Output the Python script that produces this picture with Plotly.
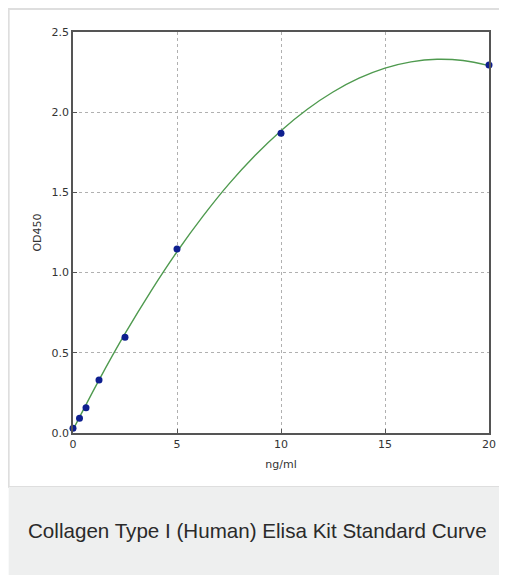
import plotly.graph_objects as go

# Standard points (ng/ml vs OD450)
conc = [0, 0.3125, 0.625, 1.25, 2.5, 5, 10, 20]
od450 = [0.03, 0.092, 0.158, 0.33, 0.597, 1.147, 1.868, 2.294]

# Fitted curve
curve_x = [0, 1.25, 2.5, 3.75, 5, 6.25, 7.5, 8.75, 10, 11.25, 12.5, 13.75, 15, 16.25, 17.5, 18.75, 20]
curve_y = [0.020, 0.330, 0.619, 0.885, 1.130, 1.352, 1.553, 1.730, 1.885, 2.017, 2.126, 2.212, 2.275, 2.314, 2.330, 2.322, 2.290]

x_ticks = [0, 5, 10, 15, 20]
y_ticks = [0.0, 0.5, 1.0, 1.5, 2.0, 2.5]
y_tick_text = ["0.0", "0.5", "1.0", "1.5", "2.0", "2.5"]
caption = "Collagen Type I (Human) Elisa Kit Standard Curve"

OFF = 8  # page body margin
W, H = 507, 575
L, R, T, B = 72.5 - OFF, W - (489.5 - OFF), 32 - OFF, H - (433 - OFF)
pw, ph = W - L - R, H - T - B


def px(x):
    return (x - OFF - L) / pw


def py(y):
    return (H - B - (y - OFF)) / ph


fig = go.Figure()
fig.add_trace(go.Scatter(x=curve_x, y=curve_y, mode="lines", line=dict(color="#4f9a4f", width=1.4, shape="spline"),
                         hoverinfo="skip", showlegend=False))
fig.add_trace(go.Scatter(x=conc, y=od450, mode="markers", marker=dict(color="#0e1f8f", size=7),
                         showlegend=False, cliponaxis=False))

shapes = [
    dict(type="rect", xref="paper", yref="paper", x0=px(8), x1=px(530), y0=py(487), y1=py(9),
         line=dict(color="#dedede", width=2), fillcolor="white", layer="below"),
    dict(type="rect", xref="paper", yref="paper", x0=px(8), x1=px(530), y0=py(600), y1=py(487),
         line=dict(width=0), fillcolor="#eeefef", layer="below"),
]
fig.update_layout(
    width=W, height=H,
    margin=dict(l=L, r=R, t=T, b=B, autoexpand=False),
    paper_bgcolor="white", plot_bgcolor="white",
    shapes=shapes,
    font=dict(family="DejaVu Sans", size=11, color="#333"),
    xaxis=dict(range=[0, 20], tickvals=x_ticks, showgrid=True, gridcolor="#b0b0b0", griddash="dot", gridwidth=1,
               showline=True, linecolor="#555", linewidth=1.5, mirror=True, ticks="inside", ticklen=4,
               tickcolor="#555", zeroline=False, title=dict(text="ng/ml", standoff=10, font=dict(size=11))),
    yaxis=dict(range=[0, 2.5], tickvals=y_ticks, ticktext=y_tick_text, showgrid=True, gridcolor="#b0b0b0",
               griddash="dot", gridwidth=1, showline=True, linecolor="#555", linewidth=1.5, mirror=True,
               ticks="inside", ticklen=4, tickcolor="#555", zeroline=False,
               title=dict(text="OD450", standoff=8, font=dict(size=11))),
    annotations=[dict(text=caption, xref="paper", yref="paper", x=px(25), y=py(530), xanchor="left",
                      yanchor="middle", showarrow=False,
                      font=dict(family="Liberation Sans, Arial", size=20.6, color="#2a2a2a"))],
)
fig.write_html("out.html", post_script="document.body.style.overflow='hidden';")
